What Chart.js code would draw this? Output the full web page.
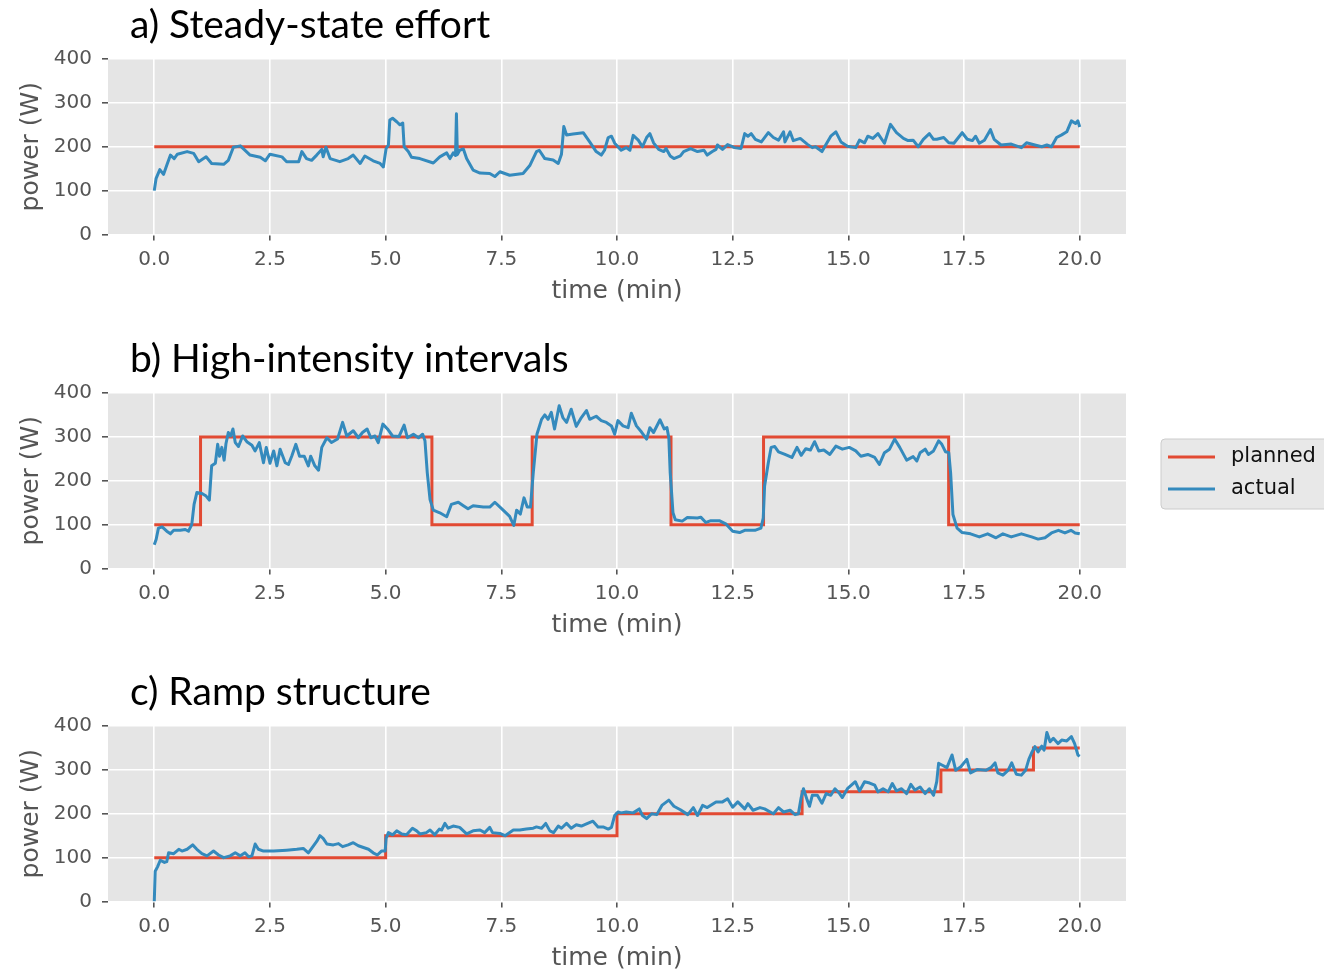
<!DOCTYPE html>
<html>
<head>
<meta charset="utf-8">
<script src="https://cdn.jsdelivr.net/npm/chart.js@4.4.1/dist/chart.umd.min.js"></script>
<style>
  html, body { margin: 0; padding: 0; background: #fff; overflow: hidden; }
  canvas { position: absolute; left: 0; }
</style>
</head>
<body>
<canvas id="c1" width="1324" height="334" style="top:0px"></canvas>
<canvas id="c2" width="1324" height="334" style="top:334px"></canvas>
<canvas id="c3" width="1324" height="305" style="top:667px"></canvas>
<script>
// tick values and labels
const xTicks = [0, 2.5, 5, 7.5, 10, 12.5, 15, 17.5, 20];
const yTicks = [0, 100, 200, 300, 400];
const titles = ['a) Steady-state effort', 'b) High-intensity intervals', 'c) Ramp structure'];
const legendLabels = ['planned', 'actual'];

// planned targets, [minute, watts] (stepped)
const steadyPlanned = [[0, 200], [20, 200]];
const intervalPlanned = [[0, 100], [1, 300], [6, 100], [8.167, 300], [11.167, 100], [13.167, 300], [17.167, 100], [20, 100]];
const rampPlanned = [[0, 100], [5, 150], [10, 200], [14, 250], [17, 300], [19, 350], [20, 350]];

// actual power, [minute, watts]
const steadyActual = [
  [0, 100], [0.04, 128], [0.12, 148], [0.2, 137], [0.27, 158], [0.35, 181], [0.43, 173], [0.5, 183],
  [0.71, 189], [0.85, 185], [0.96, 166], [1.12, 177], [1.24, 162], [1.5, 160], [1.6, 169], [1.71, 199],
  [1.86, 202], [1.94, 194], [2.07, 181], [2.29, 176], [2.4, 168], [2.5, 183], [2.76, 177], [2.86, 166],
  [3.12, 166], [3.19, 189], [3.29, 173], [3.4, 169], [3.51, 181], [3.62, 194], [3.65, 177], [3.71, 199],
  [3.8, 173], [4.01, 166], [4.19, 173], [4.3, 181], [4.45, 162], [4.55, 179], [4.73, 168], [4.88, 162],
  [4.95, 154], [5.01, 196], [5.06, 204], [5.09, 261], [5.15, 265], [5.24, 257], [5.31, 250], [5.37, 254],
  [5.4, 200], [5.49, 189], [5.56, 176], [5.74, 173], [6.03, 163], [6.17, 177], [6.32, 186], [6.39, 173],
  [6.46, 186], [6.51, 180], [6.53, 275], [6.55, 182], [6.6, 192], [6.68, 195], [6.75, 173], [6.89, 147],
  [7.04, 140], [7.25, 139], [7.36, 132], [7.47, 143], [7.68, 135], [7.97, 139], [8.12, 158], [8.26, 189],
  [8.32, 192], [8.44, 173], [8.62, 170], [8.73, 162], [8.8, 183], [8.85, 246], [8.91, 227], [9.05, 229],
  [9.27, 232], [9.41, 211], [9.55, 189], [9.66, 181], [9.73, 192], [9.81, 221], [9.88, 224], [9.95, 208],
  [10.02, 200], [10.09, 192], [10.2, 198], [10.28, 192], [10.35, 226], [10.46, 215], [10.55, 200], [10.64, 221],
  [10.71, 230], [10.79, 209], [10.9, 194], [11.01, 189], [11.06, 196], [11.15, 179], [11.23, 173], [11.37, 179],
  [11.44, 189], [11.59, 196], [11.74, 189], [11.88, 192], [11.95, 181], [12.06, 189], [12.14, 194], [12.17, 204],
  [12.28, 194], [12.39, 205], [12.54, 198], [12.68, 196], [12.76, 230], [12.83, 224], [12.9, 230], [12.99, 217],
  [13.12, 211], [13.27, 232], [13.38, 221], [13.49, 215], [13.6, 234], [13.63, 211], [13.74, 234], [13.81, 214],
  [13.96, 219], [14.11, 206], [14.22, 198], [14.29, 200], [14.43, 189], [14.51, 204], [14.62, 224], [14.73, 234],
  [14.84, 211], [14.98, 201], [15.16, 198], [15.24, 215], [15.35, 209], [15.42, 224], [15.53, 219], [15.64, 230],
  [15.78, 208], [15.91, 251], [16.04, 232], [16.19, 219], [16.29, 214], [16.4, 215], [16.51, 200], [16.62, 217],
  [16.75, 230], [16.84, 217], [16.91, 217], [17.06, 221], [17.17, 209], [17.28, 208], [17.46, 232], [17.57, 217],
  [17.68, 214], [17.75, 224], [17.83, 208], [17.94, 215], [18.07, 239], [18.15, 217], [18.3, 204], [18.52, 206],
  [18.74, 198], [18.85, 209], [19.03, 204], [19.18, 200], [19.29, 204], [19.39, 200], [19.5, 221], [19.61, 227],
  [19.72, 234], [19.82, 259], [19.91, 253], [19.96, 259], [20, 245]
];

const intervalActual = [
  [0, 54], [0.04, 66], [0.09, 92], [0.17, 95], [0.27, 85], [0.35, 79], [0.42, 87], [0.56, 87], [0.67, 89],
  [0.74, 85], [0.81, 100], [0.86, 146], [0.92, 173], [1.03, 171], [1.12, 165], [1.19, 156], [1.24, 234],
  [1.32, 240], [1.37, 283], [1.41, 256], [1.46, 276], [1.51, 247], [1.55, 285], [1.6, 310], [1.65, 302],
  [1.7, 318], [1.75, 287], [1.82, 278], [1.91, 302], [2.0, 289], [2.11, 281], [2.18, 268], [2.27, 287],
  [2.36, 241], [2.42, 276], [2.5, 240], [2.58, 268], [2.65, 234], [2.72, 272], [2.83, 241], [2.9, 237],
  [2.97, 256], [3.06, 283], [3.14, 256], [3.24, 256], [3.33, 234], [3.38, 256], [3.47, 234], [3.55, 224],
  [3.62, 276], [3.73, 298], [3.83, 287], [3.96, 295], [4.07, 333], [4.16, 302], [4.3, 314], [4.41, 298],
  [4.5, 310], [4.6, 318], [4.68, 298], [4.77, 302], [4.84, 287], [4.94, 329], [5.04, 318], [5.15, 302],
  [5.29, 301], [5.4, 327], [5.47, 298], [5.6, 306], [5.71, 298], [5.8, 306], [5.85, 291], [5.9, 218],
  [5.96, 157], [6.03, 133], [6.17, 127], [6.32, 118], [6.42, 146], [6.57, 151], [6.68, 143], [6.78, 136],
  [6.89, 143], [7.11, 140], [7.25, 140], [7.36, 151], [7.54, 133], [7.68, 119], [7.77, 98], [7.83, 133],
  [7.91, 124], [7.99, 161], [8.06, 140], [8.13, 140], [8.19, 218], [8.27, 306], [8.37, 340], [8.44, 350],
  [8.51, 340], [8.58, 356], [8.65, 318], [8.75, 371], [8.83, 344], [8.91, 333], [9.01, 363], [9.12, 324],
  [9.23, 344], [9.34, 360], [9.41, 340], [9.55, 347], [9.66, 337], [9.77, 333], [9.88, 325], [9.95, 306],
  [10.02, 337], [10.13, 325], [10.24, 321], [10.31, 354], [10.42, 325], [10.53, 311], [10.64, 295], [10.71, 321],
  [10.79, 310], [10.93, 339], [11.02, 318], [11.08, 321], [11.12, 298], [11.15, 218], [11.21, 127], [11.26, 111],
  [11.41, 108], [11.52, 116], [11.74, 115], [11.81, 117], [11.92, 105], [12.03, 109], [12.21, 109], [12.36, 101],
  [12.5, 85], [12.65, 82], [12.76, 87], [12.98, 87], [13.11, 92], [13.16, 115], [13.19, 188], [13.27, 241],
  [13.33, 276], [13.41, 278], [13.49, 266], [13.63, 260], [13.78, 253], [13.89, 276], [13.98, 258], [14.08, 273],
  [14.18, 270], [14.27, 289], [14.36, 268], [14.47, 270], [14.6, 260], [14.73, 279], [14.87, 272], [15.02, 276],
  [15.16, 268], [15.27, 256], [15.42, 260], [15.57, 253], [15.67, 237], [15.78, 264], [15.89, 272], [16.0, 295],
  [16.11, 276], [16.26, 247], [16.4, 255], [16.48, 245], [16.55, 264], [16.66, 272], [16.73, 260], [16.84, 268],
  [16.95, 291], [17.02, 283], [17.1, 266], [17.17, 264], [17.21, 218], [17.26, 123], [17.35, 92], [17.46, 82],
  [17.64, 79], [17.83, 72], [18.01, 79], [18.19, 70], [18.34, 79], [18.52, 72], [18.74, 79], [18.96, 72],
  [19.1, 67], [19.25, 70], [19.39, 81], [19.54, 87], [19.68, 81], [19.81, 87], [19.9, 81], [20, 79]
];

const rampActual = [
  [0, 0], [0.02, 69], [0.07, 79], [0.13, 94], [0.22, 89], [0.27, 91], [0.31, 111], [0.42, 109], [0.53, 119],
  [0.6, 115], [0.71, 119], [0.83, 129], [0.92, 119], [1.03, 109], [1.14, 104], [1.28, 115], [1.39, 106],
  [1.5, 100], [1.64, 104], [1.75, 111], [1.86, 104], [1.96, 111], [2.04, 102], [2.11, 104], [2.18, 131],
  [2.25, 119], [2.36, 115], [2.58, 115], [2.86, 117], [3.08, 119], [3.22, 121], [3.33, 111], [3.44, 127],
  [3.51, 137], [3.58, 150], [3.65, 144], [3.73, 131], [3.87, 129], [3.98, 132], [4.07, 125], [4.19, 129],
  [4.3, 134], [4.41, 127], [4.52, 123], [4.63, 119], [4.73, 111], [4.82, 106], [4.91, 115], [4.99, 115],
  [5.01, 144], [5.06, 157], [5.15, 152], [5.24, 161], [5.35, 154], [5.45, 152], [5.58, 167], [5.67, 161],
  [5.74, 154], [5.88, 157], [5.96, 163], [6.06, 152], [6.16, 165], [6.21, 163], [6.28, 178], [6.35, 167],
  [6.46, 172], [6.6, 169], [6.75, 154], [6.89, 161], [7.04, 163], [7.14, 157], [7.25, 169], [7.31, 157],
  [7.47, 155], [7.58, 150], [7.76, 163], [7.9, 163], [8.04, 165], [8.19, 167], [8.26, 170], [8.37, 167],
  [8.46, 178], [8.55, 161], [8.63, 157], [8.73, 172], [8.8, 167], [8.91, 178], [9.01, 167], [9.12, 175],
  [9.23, 172], [9.34, 177], [9.48, 183], [9.59, 170], [9.7, 170], [9.81, 165], [9.88, 169], [9.95, 196],
  [10.02, 204], [10.09, 202], [10.2, 204], [10.35, 202], [10.48, 211], [10.55, 196], [10.64, 189], [10.75, 200],
  [10.86, 198], [10.97, 219], [11.12, 231], [11.23, 217], [11.37, 209], [11.53, 198], [11.65, 214], [11.74, 196],
  [11.85, 219], [11.95, 214], [12.14, 227], [12.28, 227], [12.39, 234], [12.5, 215], [12.61, 227], [12.76, 211],
  [12.83, 223], [12.94, 208], [13.09, 214], [13.19, 211], [13.38, 200], [13.49, 214], [13.6, 204], [13.74, 208],
  [13.85, 198], [13.92, 200], [13.98, 237], [14.03, 257], [14.11, 231], [14.16, 217], [14.22, 242], [14.33, 242],
  [14.43, 224], [14.52, 246], [14.62, 242], [14.71, 257], [14.81, 246], [14.87, 237], [14.98, 257], [15.15, 273],
  [15.24, 252], [15.35, 273], [15.46, 270], [15.57, 265], [15.64, 250], [15.75, 257], [15.86, 250], [15.95, 269],
  [16.04, 252], [16.15, 257], [16.26, 246], [16.35, 267], [16.44, 254], [16.55, 261], [16.66, 246], [16.75, 257],
  [16.84, 242], [16.91, 273], [16.95, 315], [17.02, 311], [17.13, 305], [17.24, 334], [17.32, 299], [17.43, 307],
  [17.56, 324], [17.64, 293], [17.79, 301], [17.97, 299], [18.08, 305], [18.17, 316], [18.23, 293], [18.34, 288],
  [18.45, 299], [18.53, 316], [18.63, 290], [18.74, 288], [18.83, 299], [18.9, 324], [18.97, 341], [19.03, 353],
  [19.1, 341], [19.18, 354], [19.23, 345], [19.29, 385], [19.36, 364], [19.43, 372], [19.53, 360], [19.61, 368],
  [19.72, 366], [19.82, 376], [19.89, 360], [19.96, 334], [20, 331]
];

const RED = '#E24A33';
const BLUE = '#348ABD';
const TICK_FONT = { family: 'DejaVu Sans', size: 20 };

const decorPlugin = {
  id: 'decor',
  beforeDraw(chart) {
    const { ctx, chartArea: a } = chart;
    ctx.save();
    ctx.fillStyle = '#E5E5E5';
    ctx.fillRect(a.left, a.top, a.right - a.left, a.bottom - a.top);
    ctx.restore();
  },
  afterDraw(chart, args, opts) {
    const { ctx, chartArea: a } = chart;
    ctx.save();
    // panel title
    ctx.fillStyle = '#000';
    ctx.font = '39px Lato';
    ctx.textAlign = 'left';
    ctx.textBaseline = 'alphabetic';
    ctx.fillText(opts.title, 130, a.top - 21);
    // axis labels
    ctx.fillStyle = '#555';
    ctx.font = '25px "DejaVu Sans"';
    ctx.textAlign = 'center';
    ctx.textBaseline = 'middle';
    ctx.fillText('time (min)', (a.left + a.right) / 2, a.bottom + 57);
    ctx.translate(31, (a.top + a.bottom) / 2);
    ctx.rotate(-Math.PI / 2);
    ctx.fillText('power (W)', 0, 0);
    ctx.restore();

    if (opts.legend) {
      ctx.save();
      const bx = 1161, by = a.top + 46, bw = 180, bh = 70;
      ctx.beginPath();
      ctx.roundRect(bx, by, bw, bh, 4);
      ctx.fillStyle = '#E8E8E8';
      ctx.fill();
      ctx.strokeStyle = '#CCCCCC';
      ctx.lineWidth = 1;
      ctx.stroke();
      const colors = [RED, BLUE];
      ctx.font = '21px "DejaVu Sans"';
      ctx.textBaseline = 'middle';
      ctx.textAlign = 'left';
      legendLabels.forEach((lab, i) => {
        const y = by + 18 + i * 32;
        ctx.strokeStyle = colors[i];
        ctx.lineWidth = 3;
        ctx.beginPath();
        ctx.moveTo(bx + 7, y);
        ctx.lineTo(bx + 54, y);
        ctx.stroke();
        ctx.fillStyle = '#111';
        ctx.fillText(lab, bx + 70, y);
      });
      ctx.restore();
    }
  }
};

function toXY(pairs) {
  return pairs.map(p => ({ x: p[0], y: p[1] }));
}

function makeChart(id, title, planned, actual, height, legend) {
  const ctx = document.getElementById(id).getContext('2d');
  return new Chart(ctx, {
    type: 'line',
    data: {
      datasets: [
        {
          label: 'planned',
          data: toXY(planned),
          borderColor: RED,
          borderWidth: 3,
          stepped: 'before',
          pointRadius: 0,
          order: 1
        },
        {
          label: 'actual',
          data: toXY(actual),
          borderColor: BLUE,
          borderWidth: 3,
          borderJoinStyle: 'round',
          pointRadius: 0,
          tension: 0,
          order: 0
        }
      ]
    },
    options: {
      responsive: false,
      animation: false,
      devicePixelRatio: 1,
      layout: { padding: { top: 59, left: 0, right: 198, bottom: height - 234.5 - 60 } },
      plugins: {
        legend: { display: false },
        tooltip: { enabled: false },
        decor: { title: title, legend: legend }
      },
      scales: {
        x: {
          type: 'linear',
          min: -1,
          max: 21,
          afterBuildTicks: s => { s.ticks = xTicks.map(v => ({ value: v })); },
          afterFit: s => { s.height = 60; },
          border: { display: false },
          grid: { color: '#FFFFFF', lineWidth: 1.6, tickColor: '#555', tickLength: 6 },
          ticks: { color: '#555', font: TICK_FONT, padding: 7, maxRotation: 0, callback: v => v.toFixed(1) }
        },
        y: {
          min: 0,
          max: 400,
          afterBuildTicks: s => { s.ticks = yTicks.map(v => ({ value: v })); },
          afterFit: s => { s.width = 108; },
          border: { display: false },
          grid: { color: '#FFFFFF', lineWidth: 1.6, tickColor: '#555', tickLength: 6 },
          ticks: { color: '#555', font: TICK_FONT, padding: 10, callback: v => String(v) }
        }
      }
    },
    plugins: [decorPlugin]
  });
}

makeChart('c1', titles[0], steadyPlanned, steadyActual, 334, false);
makeChart('c2', titles[1], intervalPlanned, intervalActual, 334, true);
makeChart('c3', titles[2], rampPlanned, rampActual, 305, false);
</script>
</body>
</html>
